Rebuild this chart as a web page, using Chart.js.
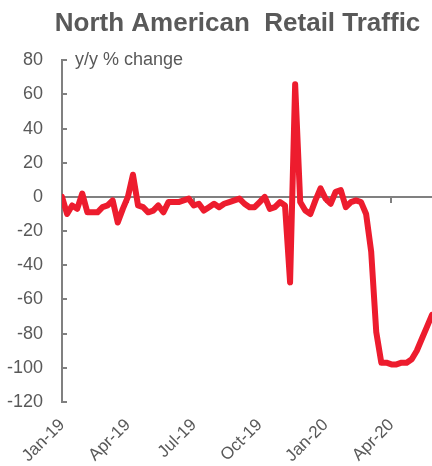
<!DOCTYPE html>
<html lang="en">
  <head>
    <meta charset="UTF-8" />
    <title>North American Retail Traffic</title>
    <script src="https://cdn.jsdelivr.net/npm/chart.js"></script>
    <style>
      body { margin: 0; background: #fff; }
      #wrap { width: 432px; height: 466px; }
    </style>
  </head>
  <body>
    <div id="wrap"><canvas id="myChart"></canvas></div>

    <script>
      // weekly y/y % change, week 0 = first week of Jan-19
      const traffic = [
        0, -10, -5, -7, 2, -9, -9, -9, -6, -5,
        -2, -15, -7, 0, 13, -5, -6, -9, -8, -5,
        -9, -3, -3, -3, -2, -1, -5, -4, -8, -6,
        -4, -6, -4, -3, -2, -1, -4, -6, -6, -3,
        0, -7, -6, -3, -5, -50, 66, -3, -8, -10,
        -2, 5, -1, -4, 3, 4, -6, -3, -2, -3,
        -10, -32, -79, -97, -97, -98, -98, -97, -97, -95,
        -90, -83, -76, -69
      ];
      const quarterLabels = ["Jan-19", "Apr-19", "Jul-19", "Oct-19", "Jan-20", "Apr-20"];
      const weeksPerQuarter = 13;
      const yTicks = [80, 60, 40, 20, 0, -20, -40, -60, -80, -100, -120];

      const grey = "#595959";
      const axisGrey = "#808080";
      const font = "'Liberation Sans', Arial, sans-serif";

      const unitLabel = {
        id: "unitLabel",
        afterDraw(chart) {
          const { ctx, chartArea } = chart;
          ctx.save();
          ctx.font = "18px " + font;
          ctx.fillStyle = grey;
          ctx.textBaseline = "middle";
          ctx.fillText("y/y % change", chartArea.left + 13, chartArea.top);
          ctx.restore();
        },
      };

      const ctx = document.getElementById("myChart").getContext("2d");
      const myChart = new Chart(ctx, {
        type: "line",
        data: {
          datasets: [
            {
              label: "Retail traffic",
              data: traffic.map((v, i) => ({ x: i, y: v })),
              borderColor: "#ED1C2E",
              borderWidth: 6,
              pointRadius: 0,
              tension: 0,
              borderJoinStyle: "round",
              borderCapStyle: "round",
              xAxisID: "x",
            },
          ],
        },
        options: {
          responsive: true,
          maintainAspectRatio: false,
          animation: false,
          layout: { padding: { left: 7, right: 0, top: 0, bottom: 0 } },
          plugins: {
            legend: { display: false },
            tooltip: { enabled: false },
            title: {
              display: true,
              text: "     North American  Retail Traffic",
              color: grey,
              font: { family: font, size: 26, weight: "bold" },
              padding: { top: 8, bottom: 21 },
            },
          },
          scales: {
            x: {
              type: "linear",
              position: { y: 0 },
              min: 0,
              max: traffic.length - 1,
              border: { display: true, color: axisGrey, width: 2 },
              grid: { drawOnChartArea: false, drawTicks: true, tickLength: 5, color: axisGrey, lineWidth: 2 },
              ticks: { display: false, stepSize: weeksPerQuarter, includeBounds: false },
            },
            x2: {
              type: "linear",
              position: "bottom",
              min: 0,
              max: traffic.length - 1,
              border: { display: false },
              grid: { display: false, drawTicks: false },
              afterFit: (scale) => { scale.height = 64; },
              ticks: {
                stepSize: weeksPerQuarter,
                includeBounds: false,
                autoSkip: false,
                minRotation: 45,
                maxRotation: 45,
                padding: 13,
                color: grey,
                font: { family: font, size: 17 },
                callback: (v) => quarterLabels[v / weeksPerQuarter],
              },
            },
            y: {
              min: yTicks[yTicks.length - 1],
              max: yTicks[0],
              border: { display: true, color: axisGrey, width: 2 },
              grid: { drawOnChartArea: false, drawTicks: true, tickLength: -5, color: axisGrey, lineWidth: 2 },
              afterFit: (scale) => { scale.width = 55; },
              ticks: {
                stepSize: 20,
                padding: 24,
                color: grey,
                font: { family: font, size: 18 },
              },
            },
          },
        },
        plugins: [unitLabel],
      });
    </script>
  </body>
</html>
